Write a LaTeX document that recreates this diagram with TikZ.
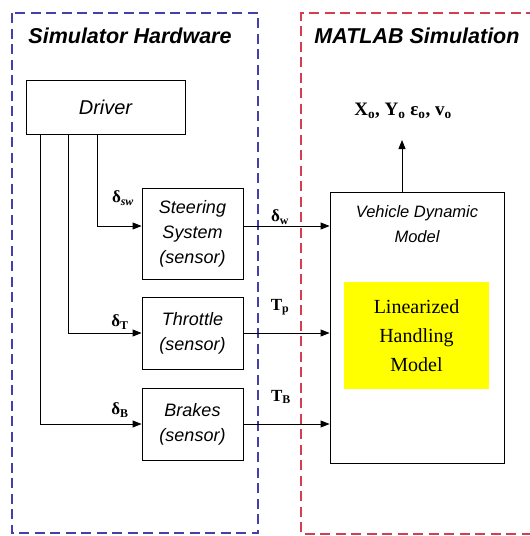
\documentclass[tikz,border=0pt]{standalone}
\usepackage{fontspec}
\setmainfont{Liberation Serif}
\newfontfamily\arial{Liberation Sans}
\usetikzlibrary{arrows.meta}
\definecolor{hwblue}{RGB}{70,62,170}
\definecolor{simred}{RGB}{212,62,82}
\definecolor{lhyellow}{RGB}{255,255,0}
\tikzset{
  blockbox/.style={draw=black, line width=0.9pt, fill=white, align=center, inner sep=0pt,
                   font=\arial\itshape\fontsize{18}{25}\selectfont},
  titletext/.style={font=\arial\bfseries\itshape\fontsize{21.5}{24}\selectfont, inner sep=0pt},
  sig/.style={font=\bfseries\fontsize{17}{18}\selectfont, inner sep=0pt},
  conn/.style={draw=black, line width=0.9pt},
  arrow/.style={conn, -{Triangle[length=9pt,width=7pt]}},
  frame/.style={line width=1.8pt, dash pattern=on 10pt off 5.5pt}
}
\begin{document}
\begin{tikzpicture}[x=1pt,y=-1pt]
\useasboundingbox[fill=white] (0,0) rectangle (530,536);
% frames
\draw[frame, draw=hwblue] (12,13) rectangle (258,533);
\draw[frame, draw=simred] (536,13) -- (301,13) -- (301,534) -- (536,534);
% titles
\node[titletext] (t1) at (130,36) {Simulator Hardware};
\node[titletext] (t2) at (417,36) {MATLAB Simulation};
% blocks
\node[blockbox, minimum width=159pt, minimum height=54pt,
      font=\arial\itshape\fontsize{20}{24}\selectfont] (drv) at (105.5,107) {Driver};
\node[blockbox, minimum width=101pt, minimum height=91pt] (str) at (192.5,233.5)
  {Steering\\System\\(sensor)};
\node[blockbox, minimum width=101pt, minimum height=72pt] (thr) at (192.5,333)
  {Throttle\\(sensor)};
\node[blockbox, minimum width=101pt, minimum height=72pt] (brk) at (192.5,424)
  {Brakes\\(sensor)};
\node[draw=black, line width=0.9pt, minimum width=174pt, minimum height=271pt, inner sep=0pt]
  (vdm) at (417,327.5) {};
\node[font=\arial\itshape\fontsize{16.5}{25}\selectfont, align=center, inner sep=0pt]
  (vdmt) at (417,224) {Vehicle Dynamic\\Model};
\node[fill=lhyellow, minimum width=145pt, minimum height=107pt, inner sep=0pt, align=center,
      font=\fontsize{20}{29}\selectfont] (lin) at (416.5,335.5)
  {Linearized\\Handling\\Model};
% output
\node[sig, font=\bfseries\fontsize{19}{20}\selectfont] (out) at (403,111)
  {X\textsubscript{o}, Y\textsubscript{o} ε\textsubscript{o}, v\textsubscript{o}};
\coordinate (vtop) at ([xshift=-15pt]vdm.north);
\coordinate (otip) at (402,140);
\draw[arrow] (vtop) -- (otip);
% driver outputs
\coordinate (d1) at ([xshift=15pt]drv.south west);
\coordinate (d2) at ([xshift=43pt]drv.south west);
\coordinate (d3) at ([xshift=72pt]drv.south west);
\coordinate (sin) at ([yshift=7.5pt]str.west);
\coordinate (sout) at ([yshift=7.5pt]str.east);
\coordinate (tin) at (thr.west);
\coordinate (tout) at (thr.east);
\coordinate (bin) at (brk.west);
\coordinate (bout) at (brk.east);
\draw[arrow] (d3) |- (sin);
\draw[arrow] (d2) |- (tin);
\draw[arrow] (d1) |- (bin);
\draw[arrow] (sout) -- (sout -| vdm.west);
\draw[arrow] (tout) -- (tout -| vdm.west);
\draw[arrow] (bout) -- (bout -| vdm.west);
% signal labels
\node[sig] (lsw) at (123,198) {δ\textsubscript{\textit{sw}}};
\node[sig] (lt) at (120,322) {δ\textsubscript{T}};
\node[sig] (lb) at (120,410) {δ\textsubscript{B}};
\node[sig] (lw) at (280,217) {δ\textsubscript{w}};
\node[sig] (lp) at (280,307) {T\textsubscript{p}};
\node[sig] (lB) at (281,397) {T\textsubscript{B}};
\end{tikzpicture}
\end{document}
